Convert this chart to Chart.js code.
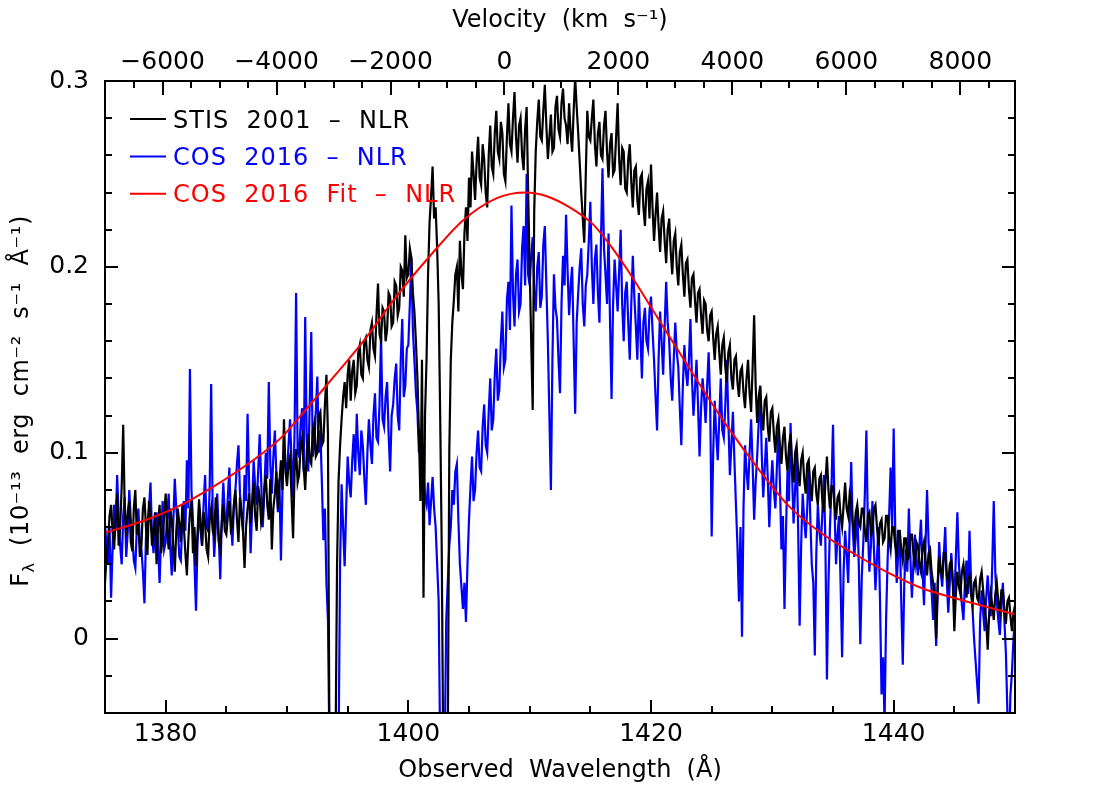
<!DOCTYPE html>
<html>
<head>
<meta charset="utf-8">
<title>NLR spectrum - STIS 2001 vs COS 2016</title>
<script src="https://cdn.jsdelivr.net/npm/chart.js@4.4.1/dist/chart.umd.min.js"></script>
<style>
    html, body { margin: 0; padding: 0; background: #ffffff; }
    #wrap { width: 1100px; height: 799px; position: relative; }
</style>
</head>
<body>
<div id="wrap"><canvas id="specChart"></canvas></div>
<script>
// Wavelength grid of both spectra (Angstrom): one flux value every 0.125 A from 1375 to 1450
const waveStart = 1375;
const waveStep = 0.125;

// STIS 2001 - NLR flux (1e-13 erg cm-2 s-1 A-1), 40 values per 5 A
const stisFlux = [
    0.030, 0.044, 0.052, 0.066, 0.072, 0.058, 0.048, 0.064, 0.078, 0.050, 0.060, 0.082, 0.115, 0.070, 0.055, 0.068, 0.074, 0.052, 0.047, 0.070,
    0.080, 0.056, 0.062, 0.044, 0.050, 0.070, 0.076, 0.060, 0.045, 0.074, 0.066, 0.050, 0.058, 0.068, 0.040, 0.062, 0.072, 0.046, 0.054, 0.066,
    0.078, 0.058, 0.048, 0.070, 0.064, 0.050, 0.036, 0.058, 0.070, 0.062, 0.052, 0.072, 0.060, 0.046, 0.034, 0.054, 0.068, 0.074, 0.046, 0.060,
    0.039, 0.056, 0.075, 0.064, 0.050, 0.068, 0.062, 0.048, 0.044, 0.064, 0.070, 0.058, 0.055, 0.076, 0.066, 0.052, 0.048, 0.062, 0.072, 0.058,
    0.056, 0.066, 0.074, 0.058, 0.060, 0.072, 0.080, 0.064, 0.052, 0.076, 0.068, 0.058, 0.038, 0.060, 0.070, 0.078, 0.062, 0.072, 0.084, 0.066,
    0.058, 0.082, 0.076, 0.062, 0.066, 0.080, 0.088, 0.072, 0.064, 0.086, 0.048, 0.070, 0.078, 0.090, 0.070, 0.084, 0.096, 0.080, 0.118, 0.090,
    0.082, 0.094, 0.098, 0.076, 0.054, 0.090, 0.102, 0.084, 0.088, 0.104, 0.108, 0.092, 0.080, 0.100, 0.110, 0.096, 0.094, 0.112, 0.116, 0.098,
    0.100, 0.120, 0.122, 0.104, 0.106, 0.126, 0.142, 0.110, -0.06, -0.06, -0.06, -0.06, -0.06, 0.040, 0.085, 0.104, 0.118, 0.130, 0.138, 0.124,
    0.142, 0.150, 0.128, 0.144, 0.150, 0.132, 0.136, 0.154, 0.158, 0.142, 0.140, 0.160, 0.162, 0.150, 0.146, 0.166, 0.170, 0.156, 0.152, 0.174,
    0.191, 0.164, 0.160, 0.178, 0.176, 0.160, 0.166, 0.186, 0.184, 0.168, 0.170, 0.192, 0.190, 0.174, 0.178, 0.200, 0.198, 0.184, 0.217, 0.194,
    0.196, 0.210, 0.205, 0.186, 0.176, 0.160, 0.140, 0.110, 0.074, 0.150, 0.022, 0.120, 0.150, 0.196, 0.224, 0.238, 0.254, 0.226, 0.232, 0.210,
    0.180, 0.120, 0.050, -0.06, -0.06, -0.06, -0.06, 0.100, 0.150, 0.170, 0.182, 0.196, 0.200, 0.176, 0.214, 0.196, 0.188, 0.218, 0.232, 0.214,
    0.248, 0.232, 0.262, 0.250, 0.236, 0.256, 0.270, 0.248, 0.244, 0.266, 0.258, 0.240, 0.232, 0.260, 0.276, 0.254, 0.250, 0.272, 0.284, 0.262,
    0.258, 0.278, 0.272, 0.250, 0.246, 0.270, 0.288, 0.266, 0.262, 0.280, 0.294, 0.270, 0.256, 0.276, 0.280, 0.260, 0.252, 0.274, 0.286, 0.240,
    0.200, 0.160, 0.123, 0.230, 0.262, 0.278, 0.290, 0.270, 0.268, 0.284, 0.298, 0.276, 0.258, 0.270, 0.282, 0.262, 0.264, 0.286, 0.292, 0.274,
    0.270, 0.288, 0.296, 0.280, 0.276, 0.266, 0.288, 0.272, 0.262, 0.284, 0.302, 0.286, 0.272, 0.256, 0.240, 0.226, 0.213, 0.250, 0.284, 0.270,
    0.268, 0.280, 0.290, 0.266, 0.254, 0.272, 0.278, 0.260, 0.258, 0.276, 0.284, 0.262, 0.248, 0.266, 0.272, 0.250, 0.252, 0.270, 0.288, 0.258,
    0.244, 0.264, 0.262, 0.242, 0.240, 0.258, 0.266, 0.246, 0.232, 0.252, 0.254, 0.236, 0.228, 0.248, 0.250, 0.232, 0.222, 0.242, 0.246, 0.226,
    0.255, 0.232, 0.214, 0.228, 0.240, 0.222, 0.208, 0.226, 0.230, 0.214, 0.202, 0.220, 0.226, 0.208, 0.196, 0.214, 0.218, 0.200, 0.190, 0.208,
    0.212, 0.196, 0.184, 0.202, 0.204, 0.188, 0.178, 0.194, 0.196, 0.182, 0.170, 0.186, 0.188, 0.174, 0.164, 0.182, 0.180, 0.166, 0.160, 0.174,
    0.176, 0.162, 0.150, 0.164, 0.168, 0.154, 0.142, 0.158, 0.162, 0.146, 0.138, 0.154, 0.158, 0.140, 0.134, 0.150, 0.152, 0.138, 0.130, 0.144,
    0.146, 0.132, 0.124, 0.140, 0.150, 0.132, 0.122, 0.146, 0.174, 0.136, 0.116, 0.130, 0.136, 0.120, 0.112, 0.128, 0.130, 0.114, 0.106, 0.122,
    0.124, 0.110, 0.100, 0.114, 0.118, 0.104, 0.094, 0.108, 0.114, 0.098, 0.090, 0.104, 0.110, 0.094, 0.084, 0.100, 0.104, 0.090, 0.082, 0.096,
    0.100, 0.086, 0.078, 0.094, 0.096, 0.082, 0.074, 0.090, 0.092, 0.078, 0.072, 0.086, 0.088, 0.074, 0.068, 0.084, 0.098, 0.080, 0.070, 0.082,
    0.082, 0.072, 0.064, 0.076, 0.078, 0.066, 0.060, 0.072, 0.084, 0.070, 0.066, 0.078, 0.074, 0.062, 0.056, 0.068, 0.072, 0.062, 0.060, 0.070,
    0.070, 0.058, 0.052, 0.066, 0.068, 0.056, 0.058, 0.070, 0.072, 0.060, 0.050, 0.062, 0.064, 0.052, 0.054, 0.066, 0.066, 0.054, 0.048, 0.060,
    0.060, 0.050, 0.046, 0.058, 0.058, 0.048, 0.042, 0.054, 0.054, 0.042, 0.044, 0.056, 0.056, 0.046, 0.040, 0.052, 0.050, 0.040, 0.036, 0.048,
    0.052, 0.042, 0.034, 0.046, 0.048, 0.036, 0.030, 0.020, 0.000, 0.030, 0.044, 0.036, 0.034, 0.046, 0.046, 0.034, 0.030, 0.040, 0.042, 0.030,
    0.004, 0.024, 0.036, 0.028, 0.024, 0.036, 0.040, 0.030, 0.022, 0.032, 0.034, 0.024, 0.018, 0.030, 0.032, 0.022, 0.020, 0.032, 0.036, 0.026,
    0.016, 0.010, -0.006, 0.014, 0.024, 0.018, 0.010, 0.024, 0.030, 0.020, 0.014, 0.026, 0.026, 0.016, 0.008, 0.020, 0.022, 0.012, 0.004, 0.014,
    0.018
];

// COS 2016 - NLR flux, same grid
const cosFlux = [
    0.062, 0.050, 0.040, 0.060, 0.022, 0.048, 0.072, 0.058, 0.088, 0.066, 0.050, 0.040, 0.066, 0.076, 0.044, 0.058, 0.080, 0.064, 0.056, 0.042,
    0.038, 0.060, 0.070, 0.052, 0.048, 0.036, 0.019, 0.054, 0.062, 0.070, 0.084, 0.056, 0.046, 0.060, 0.068, 0.050, 0.030, 0.056, 0.074, 0.048,
    0.052, 0.066, 0.078, 0.050, 0.034, 0.062, 0.086, 0.070, 0.060, 0.044, 0.042, 0.064, 0.074, 0.058, 0.096, 0.070, 0.145, 0.080, 0.064, 0.040,
    0.015, 0.052, 0.070, 0.058, 0.050, 0.072, 0.088, 0.060, 0.058, 0.080, 0.137, 0.068, 0.044, 0.060, 0.078, 0.056, 0.032, 0.064, 0.084, 0.066,
    0.062, 0.076, 0.092, 0.064, 0.050, 0.072, 0.080, 0.094, 0.104, 0.078, 0.066, 0.058, 0.088, 0.074, 0.121, 0.084, 0.046, 0.070, 0.096, 0.082,
    0.072, 0.090, 0.110, 0.084, 0.060, 0.078, 0.100, 0.086, 0.138, 0.094, 0.078, 0.098, 0.112, 0.088, 0.068, 0.086, 0.042, 0.080, 0.104, 0.092,
    0.090, 0.104, 0.118, 0.096, 0.076, 0.112, 0.186, 0.100, 0.098, 0.116, 0.124, 0.090, 0.173, 0.108, 0.090, 0.128, 0.165, 0.098, 0.104, 0.122,
    0.141, 0.100, 0.112, 0.084, 0.053, 0.070, 0.030, 0.010, -0.06, -0.06, -0.06, -0.06, -0.06, -0.06, -0.06, 0.040, 0.083, 0.060, 0.039, 0.070,
    0.098, 0.084, 0.076, 0.096, 0.110, 0.090, 0.121, 0.100, 0.088, 0.112, 0.104, 0.086, 0.072, 0.100, 0.118, 0.104, 0.094, 0.120, 0.132, 0.108,
    0.106, 0.126, 0.163, 0.118, 0.114, 0.130, 0.138, 0.110, 0.090, 0.120, 0.126, 0.140, 0.148, 0.120, 0.112, 0.150, 0.172, 0.130, 0.136, 0.156,
    0.158, 0.180, 0.205, 0.166, 0.150, 0.132, 0.122, 0.100, 0.112, 0.096, 0.090, 0.076, 0.072, 0.084, 0.061, 0.074, 0.087, 0.070, 0.060, 0.040,
    0.020, -0.06, -0.06, -0.06, -0.06, 0.010, 0.030, 0.050, 0.060, 0.080, 0.072, 0.090, 0.094, 0.064, 0.040, 0.028, 0.016, 0.030, 0.009, 0.040,
    0.064, 0.082, 0.098, 0.074, 0.080, 0.100, 0.112, 0.092, 0.090, 0.114, 0.126, 0.104, 0.100, 0.122, 0.140, 0.112, 0.118, 0.142, 0.156, 0.128,
    0.134, 0.160, 0.176, 0.146, 0.150, 0.182, 0.192, 0.166, 0.233, 0.186, 0.168, 0.196, 0.204, 0.176, 0.180, 0.210, 0.222, 0.190, 0.250, 0.196,
    0.190, 0.206, 0.216, 0.186, 0.176, 0.200, 0.208, 0.178, 0.184, 0.212, 0.222, 0.190, 0.160, 0.120, 0.080, 0.150, 0.196, 0.178, 0.172, 0.150,
    0.132, 0.180, 0.206, 0.190, 0.228, 0.198, 0.174, 0.190, 0.200, 0.160, 0.121, 0.170, 0.186, 0.200, 0.210, 0.180, 0.168, 0.190, 0.196, 0.214,
    0.235, 0.200, 0.180, 0.204, 0.212, 0.186, 0.170, 0.214, 0.253, 0.210, 0.196, 0.180, 0.218, 0.170, 0.129, 0.180, 0.204, 0.190, 0.176, 0.198,
    0.220, 0.180, 0.160, 0.186, 0.192, 0.170, 0.150, 0.180, 0.206, 0.184, 0.168, 0.150, 0.186, 0.164, 0.140, 0.170, 0.178, 0.160, 0.156, 0.176,
    0.184, 0.166, 0.150, 0.130, 0.112, 0.150, 0.176, 0.160, 0.142, 0.168, 0.192, 0.170, 0.160, 0.140, 0.128, 0.150, 0.170, 0.154, 0.146, 0.124,
    0.104, 0.136, 0.158, 0.144, 0.136, 0.150, 0.172, 0.140, 0.120, 0.134, 0.150, 0.126, 0.098, 0.124, 0.140, 0.130, 0.116, 0.136, 0.154, 0.128,
    0.055, 0.100, 0.128, 0.110, 0.096, 0.118, 0.140, 0.112, 0.108, 0.126, 0.150, 0.118, 0.088, 0.104, 0.122, 0.096, 0.072, 0.050, 0.020, 0.060,
    0.001, 0.070, 0.104, 0.090, 0.080, 0.100, 0.118, 0.094, 0.064, 0.084, 0.098, 0.116, 0.136, 0.100, 0.076, 0.092, 0.108, 0.086, 0.060, 0.082,
    0.096, 0.080, 0.070, 0.092, 0.112, 0.084, 0.048, 0.066, 0.016, 0.058, 0.090, 0.074, 0.116, 0.088, 0.062, 0.080, 0.100, 0.060, 0.007, 0.050,
    0.078, 0.064, 0.054, 0.070, 0.094, 0.066, 0.040, 0.030, -0.009, 0.046, 0.072, 0.058, 0.050, 0.068, 0.088, 0.050, -0.022, 0.030, 0.060, 0.082,
    0.115, 0.070, 0.040, 0.056, 0.066, 0.030, -0.010, 0.036, 0.058, 0.046, 0.030, 0.062, 0.095, 0.060, 0.044, 0.054, 0.070, 0.040, -0.003, 0.034,
    0.052, 0.078, 0.112, 0.060, 0.036, 0.050, 0.074, 0.048, 0.026, 0.044, 0.060, 0.020, -0.030, -0.010, -0.045, 0.010, 0.042, 0.066, 0.092, 0.060,
    0.113, 0.060, 0.030, 0.046, 0.058, 0.020, -0.014, 0.030, 0.048, 0.036, 0.070, 0.044, 0.022, 0.040, 0.056, 0.042, 0.034, 0.050, 0.064, 0.038,
    0.018, 0.050, 0.080, 0.052, 0.040, 0.026, 0.010, 0.030, -0.004, 0.024, 0.052, 0.036, 0.028, 0.044, 0.060, 0.032, 0.014, 0.030, 0.046, 0.030,
    0.020, 0.044, 0.068, 0.040, 0.030, 0.018, 0.010, 0.030, 0.042, 0.024, 0.058, 0.032, 0.016, 0.000, -0.012, -0.024, -0.035, 0.010, 0.026, 0.014,
    0.004, 0.022, 0.034, 0.020, 0.012, 0.040, 0.074, 0.036, 0.020, 0.010, 0.002, 0.018, 0.030, 0.010, -0.008, -0.040, -0.060, -0.030, -0.018, 0.000,
    0.010
];

// COS 2016 fit - NLR (smooth profile)
const fitWave = [1375, 1378, 1381, 1384, 1387, 1389.5, 1391, 1392.7, 1394, 1396.3, 1399, 1401.8, 1404.5, 1407.3, 1409.7, 1411.4,
                 1413.3, 1415.2, 1416.6, 1418, 1420.7, 1423.5, 1426.2, 1429, 1431.4, 1434.2, 1436.9, 1439.7, 1442.4, 1445.2, 1448, 1450];
const fitFlux = [0.057, 0.063, 0.071, 0.082, 0.095, 0.108, 0.119, 0.132, 0.142, 0.160, 0.184, 0.206, 0.225, 0.237, 0.240, 0.238,
                 0.232, 0.223, 0.212, 0.199, 0.171, 0.142, 0.115, 0.090, 0.071, 0.056, 0.045, 0.035, 0.027, 0.0215, 0.0165, 0.013];

// Axis ranges
const waveMin = 1375, waveMax = 1450;
const fluxMin = -0.04, fluxMax = 0.3;
const velMin = -7011, velMax = 8960;   // velocity range matching the wavelength range
const velTickFirst = -6500, velTickLast = 8500, velTickStep = 500, velLabelStep = 2000;

const seriesNames = ['STIS  2001  –  NLR', 'COS  2016  –  NLR', 'COS  2016  Fit  –  NLR'];
const seriesColors = ['#000000', '#0000ff', '#ff0000'];

const FONT = '"DejaVu Sans", "Liberation Sans", sans-serif';
Chart.defaults.font.family = FONT;
Chart.defaults.color = '#000000';

function toPoints(values) {
    return values.map((f, i) => ({ x: waveStart + i * waveStep, y: f }));
}

function isMajorFlux(v) {
    return Math.abs(v * 10 - Math.round(v * 10)) < 1e-6;
}

// Frame, inward tick marks, legend and the y title with its subscript
const framePlugin = {
    id: 'framePlugin',
    afterDatasetsDraw(chart) {
        const { ctx, chartArea: a, scales } = chart;
        ctx.save();
        ctx.strokeStyle = '#000000';
        ctx.lineWidth = 2;
        ctx.beginPath();
        scales.x.ticks.forEach(t => {
            const px = Math.round(scales.x.getPixelForValue(t.value));
            const len = t.value % 20 === 0 ? 13 : 7;
            ctx.moveTo(px, a.bottom);
            ctx.lineTo(px, a.bottom - len);
        });
        scales.xTop.ticks.forEach(t => {
            const px = Math.round(scales.xTop.getPixelForValue(t.value));
            const len = t.value % velLabelStep === 0 ? 14 : 7;
            ctx.moveTo(px, a.top);
            ctx.lineTo(px, a.top + len);
        });
        scales.y.ticks.forEach(t => {
            const py = Math.round(scales.y.getPixelForValue(t.value));
            const len = isMajorFlux(t.value) ? 13 : 7;
            ctx.moveTo(a.left, py);
            ctx.lineTo(a.left + len, py);
            ctx.moveTo(a.right, py);
            ctx.lineTo(a.right - len, py);
        });
        ctx.stroke();
        ctx.strokeRect(a.left, a.top, a.right - a.left, a.bottom - a.top);

        // legend, top left inside the frame
        ctx.font = '24px ' + FONT;
        ctx.textBaseline = 'alphabetic';
        ctx.textAlign = 'left';
        if ('letterSpacing' in ctx) ctx.letterSpacing = '1px';
        chart.data.datasets.forEach((ds, i) => {
            const ly = a.top + 38 + i * 37.4;
            ctx.strokeStyle = ds.borderColor;
            ctx.lineWidth = 2;
            ctx.beginPath();
            ctx.moveTo(a.left + 25, ly);
            ctx.lineTo(a.left + 61, ly);
            ctx.stroke();
            ctx.fillStyle = ds.borderColor;
            ctx.fillText(ds.label, a.left + 68, ly + 8.5);
        });
        ctx.restore();
    },
    afterDraw(chart) {
        const { ctx, chartArea: a } = chart;
        const parts = [
            { text: 'F', size: 24, dy: 0 },
            { text: 'λ', size: 16, dy: 6 },
            { text: '  (10⁻¹³  erg  cm⁻²  s⁻¹  Å⁻¹)', size: 24, dy: 0 }
        ];
        ctx.save();
        if ('letterSpacing' in ctx) ctx.letterSpacing = '0.6px';
        let total = 0;
        parts.forEach(p => {
            ctx.font = p.size + 'px ' + FONT;
            p.w = ctx.measureText(p.text).width;
            total += p.w;
        });
        ctx.translate(28, (a.top + a.bottom) / 2 + 4);
        ctx.rotate(-Math.PI / 2);
        ctx.fillStyle = '#000000';
        ctx.textBaseline = 'alphabetic';
        ctx.textAlign = 'left';
        let cx = -total / 2;
        parts.forEach(p => {
            ctx.font = p.size + 'px ' + FONT;
            ctx.fillText(p.text, cx, p.dy);
            cx += p.w;
        });
        ctx.restore();
    }
};

const ctx = document.getElementById('specChart').getContext('2d');
const specChart = new Chart(ctx, {
    type: 'line',
    data: {
        datasets: [
            {
                label: seriesNames[0],
                data: toPoints(stisFlux),
                borderColor: seriesColors[0],
                borderWidth: 2.2,
                pointRadius: 0,
                order: 1
            },
            {
                label: seriesNames[1],
                data: toPoints(cosFlux),
                borderColor: seriesColors[1],
                borderWidth: 2.2,
                pointRadius: 0,
                order: 2
            },
            {
                label: seriesNames[2],
                data: fitWave.map((w, i) => ({ x: w, y: fitFlux[i] })),
                borderColor: seriesColors[2],
                borderWidth: 2,
                pointRadius: 0,
                cubicInterpolationMode: 'monotone',
                order: 0
            }
        ]
    },
    options: {
        responsive: true,
        maintainAspectRatio: false,
        animation: false,
        devicePixelRatio: 1,
        layout: { padding: { left: 0, right: 85, top: 0, bottom: 0 } },
        plugins: {
            legend: { display: false },
            tooltip: { enabled: false }
        },
        scales: {
            x: {
                type: 'linear',
                position: 'bottom',
                min: waveMin,
                max: waveMax,
                grid: { display: false, drawTicks: false },
                border: { display: false },
                ticks: {
                    stepSize: 5,
                    autoSkip: false,
                    maxRotation: 0,
                    minRotation: 0,
                    padding: 6,
                    font: { size: 25 },
                    callback: v => (v % 20 === 0 ? String(v) : '')
                },
                title: {
                    display: true,
                    text: 'Observed  Wavelength  (Å)',
                    font: { size: 24 },
                    padding: { top: 0, bottom: 14 }
                },
                afterFit: s => { s.height = 86; }
            },
            xTop: {
                type: 'linear',
                axis: 'x',
                position: 'top',
                min: velMin,
                max: velMax,
                grid: { display: false, drawTicks: false },
                border: { display: false },
                afterBuildTicks: s => {
                    const list = [];
                    for (let v = velTickFirst; v <= velTickLast; v += velTickStep) list.push({ value: v });
                    s.ticks = list;
                },
                ticks: {
                    autoSkip: false,
                    maxRotation: 0,
                    minRotation: 0,
                    padding: 4,
                    font: { size: 25 },
                    callback: v => (v % velLabelStep === 0 ? (v < 0 ? '−' : '') + Math.abs(v) : '')
                },
                title: {
                    display: true,
                    text: 'Velocity  (km  s⁻¹)',
                    font: { size: 24 },
                    padding: { top: 6, bottom: 0 }
                },
                afterFit: s => { s.height = 81; }
            },
            y: {
                type: 'linear',
                position: 'left',
                min: fluxMin,
                max: fluxMax,
                grid: { display: false, drawTicks: false },
                border: { display: false },
                ticks: {
                    stepSize: 0.02,
                    autoSkip: false,
                    padding: 16,
                    font: { size: 25 },
                    callback: v => (isMajorFlux(v) ? (Math.abs(v) < 1e-9 ? '0' : v.toFixed(1)) : '')
                },
                afterFit: s => { s.width = 105; }
            }
        }
    },
    plugins: [framePlugin]
});
</script>
</body>
</html>
